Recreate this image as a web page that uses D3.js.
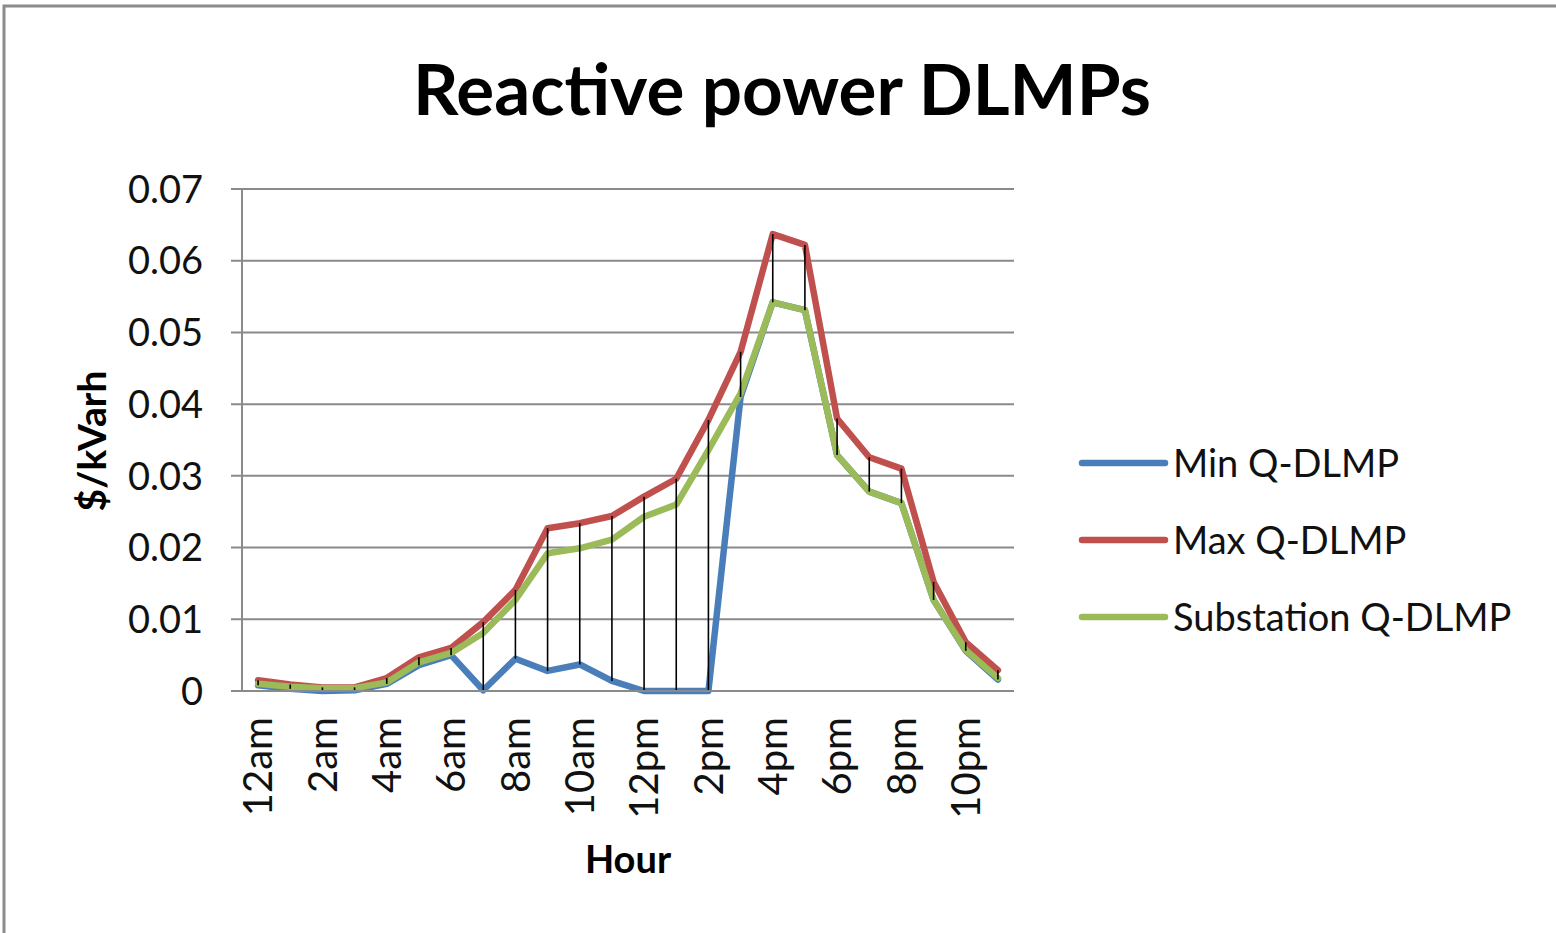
<!DOCTYPE html>
<html>
<head>
<meta charset="utf-8">
<script src="https://cdn.jsdelivr.net/npm/d3@7"></script>
<style>
  body { margin: 0; background: #fff; }
  svg { display: block; font-family: Lato, "Open Sans", sans-serif; }
</style>
</head>
<body>
<svg id="chart" width="1556" height="933"></svg>
<script>
// hours of the day (categories)
const hours = ['12am', '1am', '2am', '3am', '4am', '5am', '6am', '7am', '8am', '9am', '10am', '11am',
  '12pm', '1pm', '2pm', '3pm', '4pm', '5pm', '6pm', '7pm', '8pm', '9pm', '10pm', '11pm'];

const minQ = [0.0008, 0.0003, 0.0000, 0.0001, 0.0010, 0.0036, 0.0050, 0.0001, 0.0045, 0.0028, 0.0037, 0.0014,
  0.0000, 0.0000, 0.0000, 0.0410, 0.0542, 0.0531, 0.0329, 0.0278, 0.0262, 0.0127, 0.0056, 0.0016];
const maxQ = [0.0015, 0.0009, 0.0005, 0.0005, 0.0018, 0.0047, 0.0060, 0.0096, 0.0141, 0.0227, 0.0234, 0.0244,
  0.0271, 0.0296, 0.0378, 0.0473, 0.0637, 0.0622, 0.0380, 0.0326, 0.0310, 0.0152, 0.0068, 0.0029];
const subQ = [0.0010, 0.0006, 0.0004, 0.0004, 0.0012, 0.0040, 0.0053, 0.0081, 0.0127, 0.0192, 0.0199, 0.0211,
  0.0243, 0.0260, 0.0336, 0.0415, 0.0542, 0.0531, 0.0329, 0.0278, 0.0262, 0.0127, 0.0057, 0.0018];

const yTicks = [0, 0.01, 0.02, 0.03, 0.04, 0.05, 0.06, 0.07];
const seriesNames = ['Min Q-DLMP', 'Max Q-DLMP', 'Substation Q-DLMP'];
const seriesColors = ['#4a7ebb', '#c0504d', '#9bbb59'];

const margin = { top: 189, right: 542, bottom: 242, left: 242 };
const width = 1556 - margin.left - margin.right;
const height = 933 - margin.top - margin.bottom;

const svg = d3.select('#chart');

// outer frame of the chart area
svg.append('rect')
  .attr('x', 4).attr('y', 6).attr('width', 1570).attr('height', 960)
  .attr('fill', 'none').attr('stroke', '#8c8c8c').attr('stroke-width', 3);

const g = svg.append('g').attr('transform', `translate(${margin.left},${margin.top})`);

const x = d3.scaleBand().domain(hours).range([0, width]).padding(0);
const y = d3.scaleLinear().domain([0, 0.07]).range([height, 0]);
const cx = (h) => x(h) + x.bandwidth() / 2;

// gridlines
g.append('g')
  .selectAll('line')
  .data(yTicks)
  .join('line')
  .attr('x1', -11).attr('x2', width)
  .attr('y1', (d) => y(d)).attr('y2', (d) => y(d))
  .attr('stroke', '#8a8a8a').attr('stroke-width', 2);

// y axis line
g.append('line')
  .attr('x1', 0).attr('x2', 0).attr('y1', 0).attr('y2', height)
  .attr('stroke', '#8a8a8a').attr('stroke-width', 2);

// y tick labels
g.append('g')
  .selectAll('text')
  .data(yTicks)
  .join('text')
  .attr('x', -39).attr('y', (d) => y(d))
  .attr('dy', '0.36em')
  .attr('text-anchor', 'end')
  .attr('font-size', 38)
  .attr('fill', '#111')
  .text((d) => (d === 0 ? '0' : d.toFixed(2)));

// x tick labels, every second hour, rotated
g.append('g')
  .selectAll('text')
  .data(hours.filter((d, i) => i % 2 === 0))
  .join('text')
  .attr('transform', (d) => `translate(${cx(d)},${height + 26}) rotate(-90)`)
  .attr('dy', '0.36em')
  .attr('text-anchor', 'end')
  .attr('font-size', 40)
  .attr('fill', '#111')
  .text((d) => d);

// series lines
const line = d3.line().x((d) => cx(d.h)).y((d) => y(d.v));
[minQ, maxQ, subQ].forEach((vals, s) => {
  g.append('path')
    .datum(vals.map((v, i) => ({ h: hours[i], v })))
    .attr('d', line)
    .attr('fill', 'none')
    .attr('stroke', seriesColors[s])
    .attr('stroke-width', 6.5)
    .attr('stroke-linejoin', 'round')
    .attr('stroke-linecap', 'round');
});

// high-low lines
g.append('g')
  .selectAll('line')
  .data(hours)
  .join('line')
  .attr('x1', (d) => cx(d)).attr('x2', (d) => cx(d))
  .attr('y1', (d, i) => y(Math.min(minQ[i], maxQ[i], subQ[i])))
  .attr('y2', (d, i) => y(Math.max(minQ[i], maxQ[i], subQ[i])))
  .attr('stroke', '#000').attr('stroke-width', 1.6);

// x axis line
g.append('line')
  .attr('x1', -11).attr('x2', width).attr('y1', height).attr('y2', height)
  .attr('stroke', '#8a8a8a').attr('stroke-width', 2);

// title
svg.append('text')
  .attr('x', 782).attr('y', 115)
  .attr('text-anchor', 'middle')
  .attr('font-size', 71)
  .attr('font-weight', 'bold')
  .attr('fill', '#000')
  .text('Reactive power DLMPs');

// axis titles
svg.append('text')
  .attr('transform', 'translate(106,441) rotate(-90)')
  .attr('text-anchor', 'middle')
  .attr('font-size', 39)
  .attr('font-weight', 'bold')
  .attr('fill', '#000')
  .text('$/kVarh');

svg.append('text')
  .attr('x', 628).attr('y', 873)
  .attr('text-anchor', 'middle')
  .attr('font-size', 38)
  .attr('font-weight', 'bold')
  .attr('fill', '#000')
  .text('Hour');

// legend
const legend = svg.append('g').attr('transform', 'translate(1080,463)');
seriesNames.forEach((name, i) => {
  const row = legend.append('g').attr('transform', `translate(0,${i * 77})`);
  row.append('line')
    .attr('x1', 2).attr('x2', 85).attr('y1', 0).attr('y2', 0)
    .attr('stroke', seriesColors[i]).attr('stroke-width', 6.5)
    .attr('stroke-linecap', 'round');
  row.append('text')
    .attr('x', 93).attr('y', 0).attr('dy', '0.36em')
    .attr('font-size', 38)
    .attr('fill', '#111')
    .text(name);
});
</script>
</body>
</html>
